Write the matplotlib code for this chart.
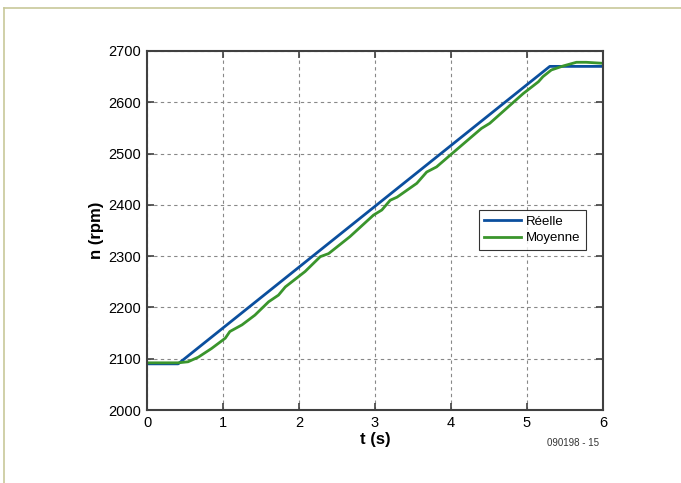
import matplotlib
matplotlib.use("Agg")
import matplotlib.pyplot as plt
from matplotlib.lines import Line2D

plt.rcParams['font.family'] = ['Liberation Sans', 'DejaVu Sans']

# Vitesse réelle (rpm)
t_reelle = [0.0, 0.41, 5.30, 6.0]
n_reelle = [2090, 2090, 2670, 2670]

# Vitesse moyenne (rpm)
t_moy = [0.0, 0.41, 0.54, 0.675, 0.85, 1.03, 1.09, 1.25, 1.42, 1.6, 1.73, 1.82,
         2.08, 2.28, 2.39, 2.67, 2.98, 3.09, 3.2, 3.29, 3.55, 3.68, 3.81, 3.99,
         4.25, 4.4, 4.51, 4.73, 4.95, 5.15, 5.21, 5.32, 5.48, 5.65, 5.78, 6.0]
n_moy = [2092, 2092, 2094, 2103, 2120, 2140, 2153, 2166, 2185, 2211, 2224, 2240,
         2270, 2299, 2305, 2338, 2380, 2390, 2409, 2415, 2442, 2464, 2474, 2497,
         2530, 2549, 2559, 2588, 2617, 2640, 2650, 2663, 2671, 2678, 2678, 2676]

fig = plt.figure(figsize=(6.81, 4.83), dpi=100)
ax = fig.add_axes([147 / 681, 1 - 410 / 483, 456 / 681, 359 / 483])

# cadre extérieur
fig.add_artist(Line2D([4 / 681, 1], [1 - 8 / 483, 1 - 8 / 483], color='#c8c89a', lw=1.2))
fig.add_artist(Line2D([4 / 681, 4 / 681], [0, 1 - 8 / 483], color='#c8c89a', lw=1.2))

ax.plot(t_reelle, n_reelle, color='#0b4f9e', lw=2, label='Réelle')
ax.plot(t_moy, n_moy, color='#3a952c', lw=2, label='Moyenne')

ax.set_xlim(0, 6)
ax.set_ylim(2000, 2700)
ax.set_xticks(range(0, 7))
ax.set_yticks(range(2000, 2701, 100))
ax.grid(True, color='#888888', linestyle=(0, (3, 3)), lw=0.8)
ax.tick_params(direction='in', top=True, right=True, length=5, width=1.2,
               color='#404040', labelsize=10.5, pad=4)
for s in ax.spines.values():
    s.set_color('#404040')
    s.set_linewidth(1.5)

ax.set_xlabel('t (s)', fontsize=12, fontweight='bold', labelpad=2)
ax.set_ylabel('n (rpm)', fontsize=12, fontweight='bold', labelpad=3)

leg = ax.legend(loc='upper right', bbox_to_anchor=(0.963, 0.557), fontsize=9.5,
                frameon=True, fancybox=False, handlelength=2.8, borderpad=0.4,
                labelspacing=0.35, handletextpad=0.4, borderaxespad=0)
leg.get_frame().set_edgecolor('black')
leg.get_frame().set_linewidth(0.8)

fig.text(573 / 681, 1 - 443 / 483, '090198 - 15', fontsize=7, color='#333333',
         ha='center', va='center')

plt.savefig('out.png', dpi=100)
